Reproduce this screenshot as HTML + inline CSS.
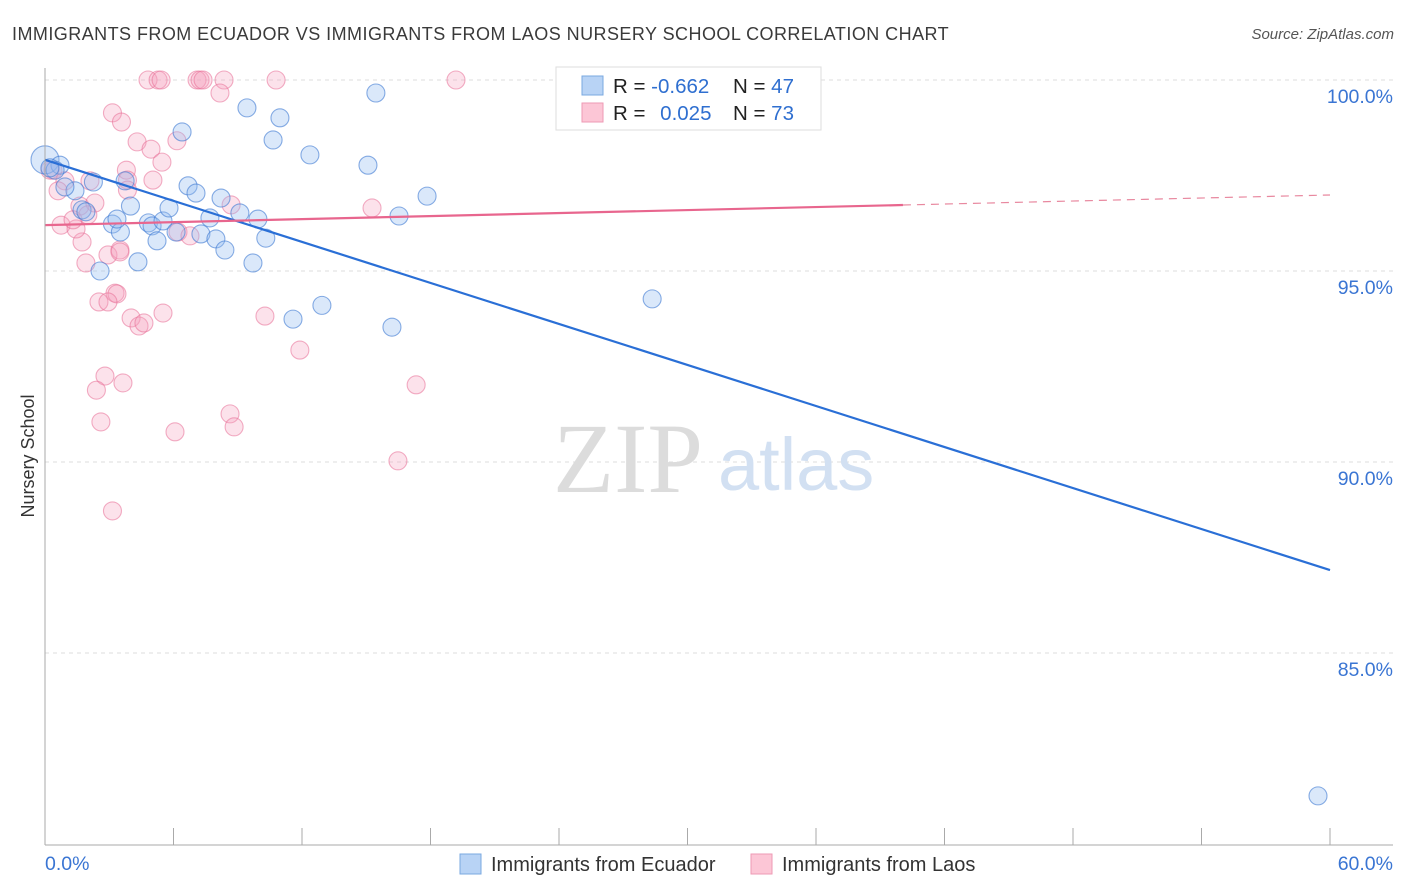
<!DOCTYPE html>
<html><head><meta charset="utf-8">
<style>
body{margin:0;background:#fff;font-family:"Liberation Sans",sans-serif;}
svg{display:block}
</style></head>
<body>
<svg id="chart" width="1406" height="892" xmlns="http://www.w3.org/2000/svg">
<text x="12" y="40" font-size="18" letter-spacing="0.45" fill="#3a3a3a">IMMIGRANTS FROM ECUADOR VS IMMIGRANTS FROM LAOS NURSERY SCHOOL CORRELATION CHART</text>
<text x="1394" y="39" font-size="15" fill="#555" font-style="italic" text-anchor="end">Source: ZipAtlas.com</text>
<g id="grid"></g>
<g>
<text x="553" y="492" font-size="100" fill="#dcdcdc" font-family="Liberation Serif,serif">ZIP</text>
<text x="718" y="490" font-size="74" fill="#d2e0f2">atlas</text>
</g>
<g id="pts"></g>
<g id="lines"></g>
<g id="axes"></g>
<g>
<rect x="556" y="67" width="265" height="63" fill="#fff" stroke="#ddd"/>
<rect x="582" y="76" width="21" height="19" fill="#b8d3f5" stroke="#7aa8e0"/>
<rect x="582" y="103" width="21" height="19" fill="#fcc6d6" stroke="#ee9ab4"/>
<text x="613" y="93" font-size="20.5" fill="#222">R = <tspan fill="#2f6fd0">-0.662</tspan></text>
<text x="733" y="93" font-size="20.5" fill="#222">N = <tspan fill="#2f6fd0">47</tspan></text>
<text x="613" y="120" font-size="20.5" fill="#222">R = <tspan fill="#2f6fd0" dx="9">0.025</tspan></text>
<text x="733" y="120" font-size="20.5" fill="#222">N = <tspan fill="#2f6fd0">73</tspan></text>
</g>
<g>
<rect x="460" y="854" width="21" height="20" fill="#b8d3f5" stroke="#7aa8e0"/>
<text x="491" y="871" font-size="20" fill="#333">Immigrants from Ecuador</text>
<rect x="751" y="854" width="21" height="20" fill="#fcc6d6" stroke="#ee9ab4"/>
<text x="782" y="871" font-size="20" fill="#333">Immigrants from Laos</text>
</g>
<text transform="translate(34,456) rotate(-90)" font-size="18" fill="#333" text-anchor="middle">Nursery School</text>
</svg>
<script>
const yTicks=[100,95,90,85];
const yTickLabels=["100.0%","95.0%","90.0%","85.0%"];
const xEcuador=[0,0.7,0.47,2.26,3.99,3.15,3.52,4.83,5.0,5.51,5.23,4.34,5.79,6.12,6.68,7.05,7.28,7.7,7.98,8.22,8.4,9.1,9.43,9.71,9.94,10.31,10.65,10.97,12.37,6.4,11.58,12.93,15.08,15.45,16.2,16.53,17.84,28.35,59.44,2.57,1.73,1.4,0.93,1.91,3.36,3.74,0.23];
const yEcuador=[97.91,97.77,97.64,97.33,96.7,96.23,96.02,96.26,96.18,96.31,95.79,95.24,96.65,96.02,97.23,97.04,95.97,96.39,95.84,96.91,95.55,96.52,99.27,95.21,96.36,95.86,98.43,99.01,98.04,98.64,93.74,94.1,97.77,99.66,93.53,96.44,96.96,94.27,81.26,95.0,96.6,97.1,97.2,96.55,96.36,97.36,97.7];
const xLaos=[4.81,5.28,5.42,7.1,7.24,7.38,8.36,10.79,19.19,31.8,8.17,3.15,3.57,4.3,4.95,5.46,6.16,3.8,5.04,3.85,3.85,2.1,15.27,8.69,6.21,6.77,1.73,1.91,2.94,3.5,3.5,2.52,3.27,3.36,2.94,4.02,4.39,4.62,5.51,10.27,11.9,17.33,2.8,3.64,2.4,2.61,8.64,8.83,6.07,16.48,3.15,0.75,1.45,0.37,0.23,0.93,0.61,1.63,2.33,1.31,2.0];
const yLaos=[100,100,100,100,100,100,100,100,100,100,99.66,99.14,98.9,98.38,98.19,97.85,98.41,97.64,97.38,97.38,97.12,97.36,96.65,96.73,96.02,95.92,95.76,95.21,95.42,95.55,95.5,94.19,94.42,94.4,94.19,93.77,93.56,93.64,93.9,93.82,92.93,92.02,92.25,92.07,91.88,91.05,91.26,90.92,90.79,90.03,88.72,96.2,96.1,97.64,97.64,97.36,97.1,96.7,96.78,96.34,96.47];
const blueTrend=[97.91,87.17];
const pinkTrend=[96.20,96.99];
const pinkSolidEnd=40.06;
const X0=45,X1=1330,YTOP=80,YPX=38.2;
const sx=v=>X0+(v/60)*(X1-X0);
const sy=v=>YTOP+(100-v)*YPX;
const NS="http://www.w3.org/2000/svg";
function mk(tag,attrs,parent){const e=document.createElementNS(NS,tag);for(const k in attrs)e.setAttribute(k,attrs[k]);parent.appendChild(e);return e;}
const grid=document.getElementById('grid'),axes=document.getElementById('axes'),pts=document.getElementById('pts'),lines=document.getElementById('lines');
yTicks.forEach((t,i)=>{
  const g=mk('line',{x1:X0,x2:1393,y1:sy(t),y2:sy(t),stroke:'#ddd','stroke-dasharray':'4,4'},grid);
  
  
  const tx=mk('text',{x:1393,y:sy(t)+23,'font-size':19.5,fill:'#3a75d3','text-anchor':'end'},axes);
  tx.textContent=yTickLabels[i];
  
  
});
const yl=mk('line',{x1:X0,x2:X0,y1:68,y2:845,stroke:'#aaa'},axes);


const xl=mk('line',{x1:X0,x2:1393,y1:845,y2:845,stroke:'#aaa'},axes);


for(let i=0;i<=10;i++){
  const x=sx(i*6);
  const tk=mk('line',{x1:x,x2:x,y1:828,y2:845,stroke:'#aaa'},axes);
  
  
}
const xt0=mk('text',{x:45,y:870,'font-size':19.5,fill:'#3a75d3'},axes);xt0.textContent='0.0%';


const xt1=mk('text',{x:1393,y:870,'font-size':19.5,fill:'#3a75d3','text-anchor':'end'},axes);xt1.textContent='60.0%';


xLaos.forEach((v,i)=>{
  const c=mk('circle',{cx:sx(v),cy:sy(yLaos[i]),r:9,fill:'rgba(246,160,190,0.3)',stroke:'rgba(232,110,150,0.55)','stroke-width':1.1},pts);
  
  
});
xEcuador.forEach((v,i)=>{
  const c=mk('circle',{cx:sx(v),cy:sy(yEcuador[i]),r:i===0?14:9,fill:'rgba(150,190,240,0.35)',stroke:'rgba(60,120,210,0.6)','stroke-width':1.1},pts);
  
  
});
const bl=mk('line',{x1:sx(0),y1:sy(blueTrend[0]),x2:sx(60),y2:sy(blueTrend[1]),stroke:'#2a6fd6','stroke-width':2.2},lines);


const pAt=x=>pinkTrend[0]+(pinkTrend[1]-pinkTrend[0])*x/60;
const pl=mk('line',{x1:sx(0),y1:sy(pinkTrend[0]),x2:sx(pinkSolidEnd),y2:sy(pAt(pinkSolidEnd)),stroke:'#e8668e','stroke-width':2.2},lines);


const pd=mk('line',{x1:sx(pinkSolidEnd),y1:sy(pAt(pinkSolidEnd)),x2:sx(60),y2:sy(pinkTrend[1]),stroke:'#e8889f','stroke-width':1.2,'stroke-dasharray':'8,6'},lines);


</script>
</body></html>
